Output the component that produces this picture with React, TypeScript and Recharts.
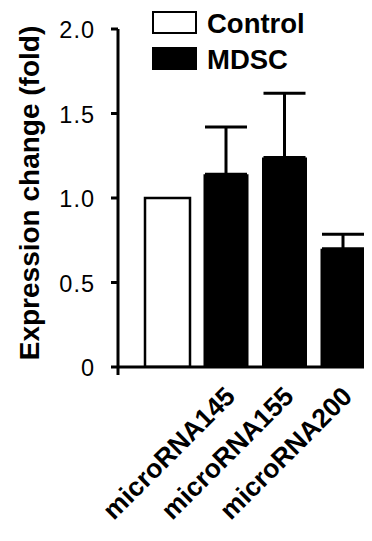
import React from 'react';
import { BarChart, Bar, XAxis, YAxis, Cell, ErrorBar, Legend, Label } from 'recharts';

const categories = ['Control', 'microRNA145', 'microRNA155', 'microRNA200'];
const tickLabels = ['', 'microRNA145', 'microRNA155', 'microRNA200'];
const groups = ['Control', 'MDSC', 'MDSC', 'MDSC'];
const values = [1.0, 1.14, 1.24, 0.7];
const upperErrors: (number | null)[] = [null, 0.28, 0.38, 0.085];
const yTicks = [0, 0.5, 1.0, 1.5, 2.0];
const yTickLabels = ['0', '0.5', '1.0', '1.5', '2.0'];
const legendItems = ['Control', 'MDSC'];
const groupFill: Record<string, string> = { Control: '#ffffff', MDSC: '#000000' };
const yAxisTitle = 'Expression change (fold)';

const data = categories.map((c, i) => ({
  name: c,
  label: tickLabels[i],
  group: groups[i],
  value: values[i],
  err: upperErrors[i] == null ? null : [0, upperErrors[i]],
}));

const FONT = '"Liberation Sans", Arial, Helvetica, sans-serif';
const W = 364;
const H = 533;
const TICK_SIZE = 7;
const TICK_MARGIN = 16;

const XTick = (props: any) => {
  const { x, y, index } = props;
  const text = tickLabels[index] ?? '';
  if (!text) return null;
  const ax = x + 11;
  const ay = y + 31;
  return (
    <text
      x={ax}
      y={ay}
      textAnchor="end"
      fontFamily={FONT}
      fontWeight="bold"
      fontSize={26.5}
      fill="#000"
      transform={`rotate(-45, ${ax}, ${ay})`}
    >
      {text}
    </text>
  );
};

const YTick = (props: any) => {
  const { x, y, payload } = props;
  const idx = yTicks.indexOf(payload.value);
  const axisX = x + TICK_SIZE + TICK_MARGIN;
  return (
    <g>
      <text
        x={x}
        y={y}
        dy={9}
        textAnchor="end"
        fontFamily={FONT}
        fontSize={23.5}
        letterSpacing={1}
        fill="#000"
      >
        {idx >= 0 ? yTickLabels[idx] : payload.value}
      </text>
      {payload.value === 0 && (
        <line x1={axisX} y1={y} x2={axisX} y2={y + 8} stroke="#000" strokeWidth={3} />
      )}
    </g>
  );
};

const renderYLabel = (props: any) => {
  const vb = props.viewBox || {};
  const cx = (vb.x ?? 0) + 31;
  const cy = (vb.y ?? 0) + (vb.height ?? 0) / 2 - 5;
  return (
    <text
      x={cx}
      y={cy}
      textAnchor="middle"
      fontFamily={FONT}
      fontWeight="bold"
      fontSize={28}
      fill="#000"
      transform={`rotate(-90, ${cx}, ${cy})`}
    >
      {yAxisTitle}
    </text>
  );
};

const renderLegend = () => (
  <svg width={W} height={80} style={{ display: 'block' }}>
    {legendItems.map((item, i) => {
      const top = 4 + i * 36;
      return (
        <g key={item}>
          <rect
            x={145}
            y={top}
            width={43}
            height={21}
            fill={groupFill[item]}
            stroke="#000"
            strokeWidth={2}
          />
          <text
            x={199}
            y={top + 21}
            fontFamily={FONT}
            fontWeight="bold"
            fontSize={27.5}
            fill="#000"
          >
            {item}
          </text>
        </g>
      );
    })}
  </svg>
);

export default function App() {
  return (
    <BarChart
      width={W}
      height={H}
      data={data}
      margin={{ top: 21, right: 0, left: 0, bottom: 0 }}
      style={{ fontFamily: FONT }}
    >
      <XAxis
        dataKey="name"
        height={174}
        interval={0}
        tickLine={false}
        tickSize={0}
        tickMargin={0}
        axisLine={{ stroke: '#000', strokeWidth: 3 }}
        padding={{ left: 20, right: 0 }}
        tick={<XTick />}
      />
      <YAxis
        width={110}
        domain={[0, 2]}
        ticks={yTicks}
        type="number"
        allowDataOverflow
        tickSize={TICK_SIZE}
        tickMargin={TICK_MARGIN}
        axisLine={{ stroke: '#000', strokeWidth: 3 }}
        tickLine={{ stroke: '#000', strokeWidth: 3 }}
        tick={<YTick />}
      >
        <Label content={renderYLabel} />
      </YAxis>
      <Legend
        layout="horizontal"
        verticalAlign="middle"
        align="center"
        wrapperStyle={{ position: 'absolute', top: 0, left: 0, width: W, height: 80 }}
        content={renderLegend}
      />
      <Bar dataKey="value" barSize={45} isAnimationActive={false}>
        {data.map((d, i) => (
          <Cell
            key={i}
            fill={groupFill[d.group]}
            stroke="#000"
            strokeWidth={d.group === 'Control' ? 2.5 : 0}
          />
        ))}
        <ErrorBar
          dataKey="err"
          direction="y"
          width={21}
          stroke="#000"
          strokeWidth={3}
          isAnimationActive={false}
        />
      </Bar>
    </BarChart>
  );
}
